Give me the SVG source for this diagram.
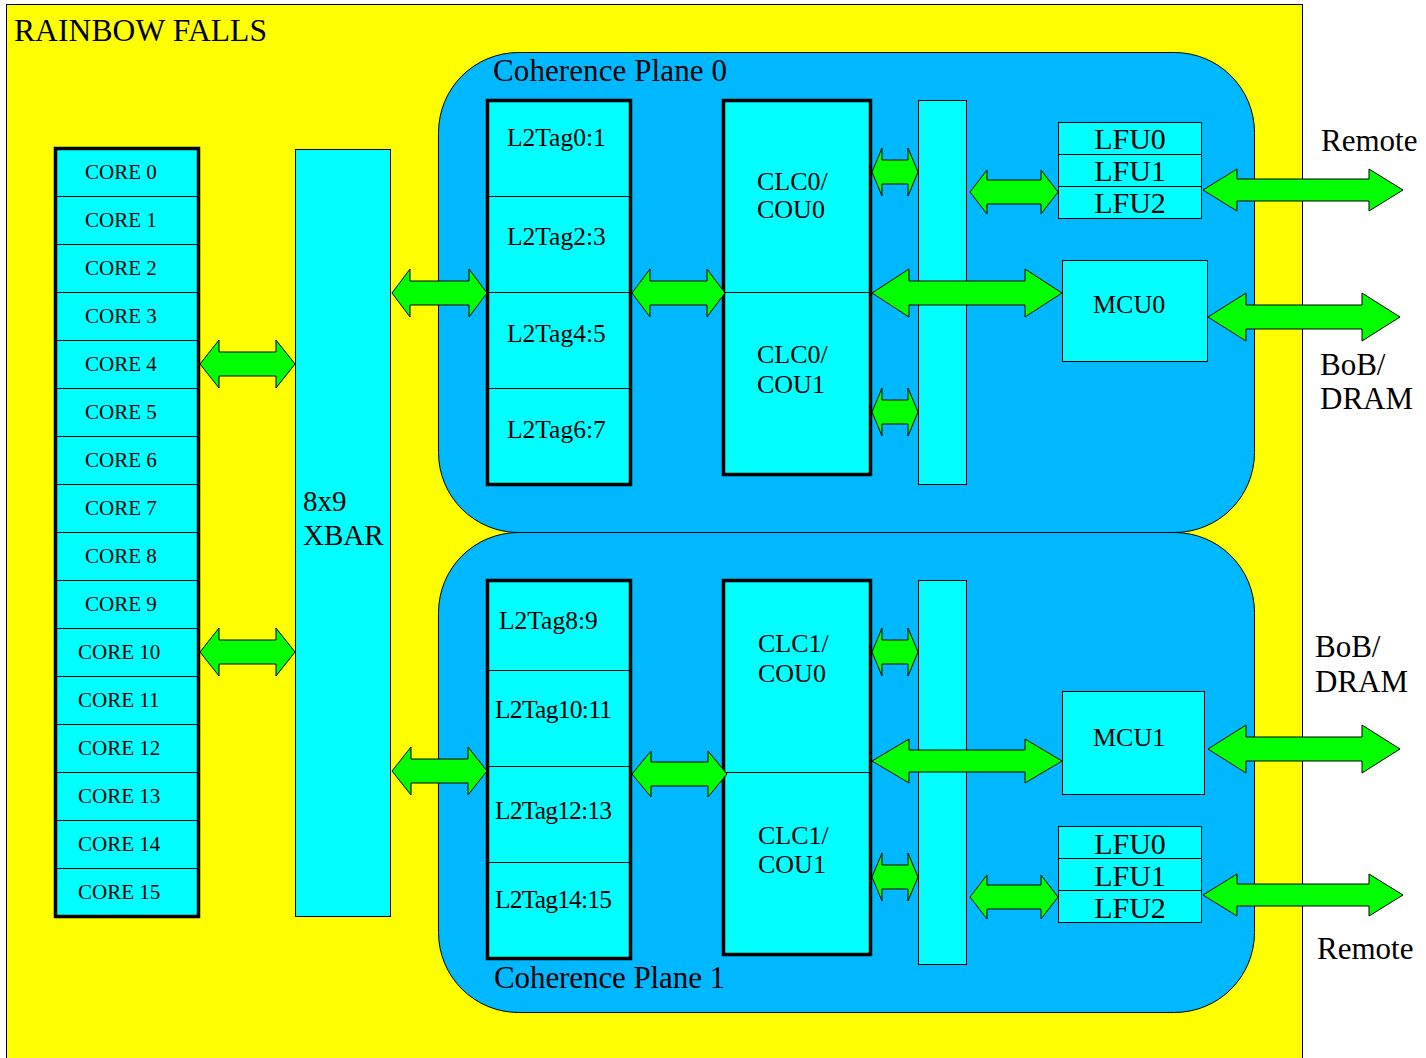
<svg xmlns="http://www.w3.org/2000/svg" width="1426" height="1058" viewBox="0 0 1426 1058">
<style>
text{font-family:"Liberation Serif","Times New Roman",serif;fill:#000}
.cell{fill:#00FFFF;stroke:#000;stroke-width:1}
.thick{fill:none;stroke:#000;stroke-width:3.5}
.plane{fill:#00B8FF;stroke:#000;stroke-width:1}
.arrow{fill:#00FF00;stroke:#000;stroke-width:1;stroke-linejoin:miter}
.core{font-size:21px}
.tag{font-size:25.5px}
.clc{font-size:26px}
.lfu{font-size:30px;text-anchor:middle}
.big{font-size:31px}
</style>
<rect x="6.5" y="4.5" width="1296" height="1060" fill="#FFFF00" stroke="#000" stroke-width="1"/>
<text x="14" y="41" class="big" style="font-size:31.5px" textLength="253">RAINBOW FALLS</text>

<g id="plane0">
<rect class="plane" x="438.5" y="52.5" width="816" height="480" rx="80" ry="80"/>
<text x="493" y="81" class="big" textLength="234">Coherence Plane 0</text>
</g>
<g id="plane1">
<rect class="plane" x="438.5" y="532.5" width="816" height="480" rx="80" ry="80"/>
<text x="494" y="988" class="big" textLength="231">Coherence Plane 1</text>
</g>

<g id="cores">
<g id="core0"><rect class="cell" x="55.5" y="148.5" width="143" height="48"/><text class="core" x="85" y="179">CORE 0</text></g>
<g id="core1"><rect class="cell" x="55.5" y="196.5" width="143" height="48"/><text class="core" x="85" y="227">CORE 1</text></g>
<g id="core2"><rect class="cell" x="55.5" y="244.5" width="143" height="48"/><text class="core" x="85" y="275">CORE 2</text></g>
<g id="core3"><rect class="cell" x="55.5" y="292.5" width="143" height="48"/><text class="core" x="85" y="323">CORE 3</text></g>
<g id="core4"><rect class="cell" x="55.5" y="340.5" width="143" height="48"/><text class="core" x="85" y="371">CORE 4</text></g>
<g id="core5"><rect class="cell" x="55.5" y="388.5" width="143" height="48"/><text class="core" x="85" y="419">CORE 5</text></g>
<g id="core6"><rect class="cell" x="55.5" y="436.5" width="143" height="48"/><text class="core" x="85" y="467">CORE 6</text></g>
<g id="core7"><rect class="cell" x="55.5" y="484.5" width="143" height="48"/><text class="core" x="85" y="515">CORE 7</text></g>
<g id="core8"><rect class="cell" x="55.5" y="532.5" width="143" height="48"/><text class="core" x="85" y="563">CORE 8</text></g>
<g id="core9"><rect class="cell" x="55.5" y="580.5" width="143" height="48"/><text class="core" x="85" y="611">CORE 9</text></g>
<g id="core10"><rect class="cell" x="55.5" y="628.5" width="143" height="48"/><text class="core" x="78" y="659">CORE 10</text></g>
<g id="core11"><rect class="cell" x="55.5" y="676.5" width="143" height="48"/><text class="core" x="78" y="707">CORE 11</text></g>
<g id="core12"><rect class="cell" x="55.5" y="724.5" width="143" height="48"/><text class="core" x="78" y="755">CORE 12</text></g>
<g id="core13"><rect class="cell" x="55.5" y="772.5" width="143" height="48"/><text class="core" x="78" y="803">CORE 13</text></g>
<g id="core14"><rect class="cell" x="55.5" y="820.5" width="143" height="48"/><text class="core" x="78" y="851">CORE 14</text></g>
<g id="core15"><rect class="cell" x="55.5" y="868.5" width="143" height="48"/><text class="core" x="78" y="899">CORE 15</text></g>
<rect class="thick" x="55.5" y="148.5" width="143" height="768"/>
</g>

<g id="xbar">
<rect class="cell" x="295.5" y="149.5" width="95" height="767"/>
<text x="303" y="511" style="font-size:29px">8x9</text>
<text x="303" y="545" style="font-size:29px">XBAR</text>
</g>

<g id="l2tag0">
<rect class="cell" x="487.5" y="100.5" width="143" height="96"/><text class="tag" x="507" y="146">L2Tag0:1</text>
<rect class="cell" x="487.5" y="196.5" width="143" height="96"/><text class="tag" x="507" y="245">L2Tag2:3</text>
<rect class="cell" x="487.5" y="292.5" width="143" height="96"/><text class="tag" x="507" y="342">L2Tag4:5</text>
<rect class="cell" x="487.5" y="388.5" width="143" height="96"/><text class="tag" x="507" y="438">L2Tag6:7</text>
<rect class="thick" x="487.5" y="100.5" width="143" height="384"/>
</g>

<g id="clc0">
<rect class="cell" x="723.5" y="100.5" width="147" height="192"/>
<rect class="cell" x="723.5" y="292.5" width="147" height="182"/>
<text class="clc" x="757" y="190">CLC0/</text><text class="clc" x="757" y="218">COU0</text>
<text class="clc" x="757" y="363">CLC0/</text><text class="clc" x="757" y="393">COU1</text>
<rect class="thick" x="723.5" y="100.5" width="147" height="374"/>
</g>

<g id="bar0"><rect class="cell" x="918.5" y="100.5" width="48" height="384"/></g>

<g id="lfu_p0">
<rect class="cell" x="1058.5" y="122.5" width="143" height="32"/><text class="lfu" x="1130" y="149">LFU0</text>
<rect class="cell" x="1058.5" y="154.5" width="143" height="32"/><text class="lfu" x="1130" y="181">LFU1</text>
<rect class="cell" x="1058.5" y="186.5" width="143" height="32"/><text class="lfu" x="1130" y="213">LFU2</text>
</g>

<g id="mcu0"><rect class="cell" x="1062.5" y="260.5" width="145" height="101"/><text class="clc" x="1093" y="313">MCU0</text></g>

<g id="l2tag1">
<rect class="cell" x="487.5" y="580.5" width="143" height="90"/><text class="tag" x="499" y="629">L2Tag8:9</text>
<rect class="cell" x="487.5" y="670.5" width="143" height="96"/><text class="tag" x="495" y="718" textLength="117">L2Tag10:11</text>
<rect class="cell" x="487.5" y="766.5" width="143" height="96"/><text class="tag" x="495" y="819" textLength="117">L2Tag12:13</text>
<rect class="cell" x="487.5" y="862.5" width="143" height="96"/><text class="tag" x="495" y="908" textLength="117">L2Tag14:15</text>
<rect class="thick" x="487.5" y="580.5" width="143" height="378"/>
</g>

<g id="clc1">
<rect class="cell" x="723.5" y="580.5" width="147" height="192"/>
<rect class="cell" x="723.5" y="772.5" width="147" height="182"/>
<text class="clc" x="758" y="652">CLC1/</text><text class="clc" x="758" y="682">COU0</text>
<text class="clc" x="758" y="844">CLC1/</text><text class="clc" x="758" y="873">COU1</text>
<rect class="thick" x="723.5" y="580.5" width="147" height="374"/>
</g>

<g id="bar1"><rect class="cell" x="918.5" y="580.5" width="48" height="384"/></g>

<g id="mcu1"><rect class="cell" x="1062.5" y="691.5" width="142" height="103"/><text class="clc" x="1093" y="746">MCU1</text></g>

<g id="lfu_p1">
<rect class="cell" x="1058.5" y="826.5" width="143" height="32"/><text class="lfu" x="1130" y="854">LFU0</text>
<rect class="cell" x="1058.5" y="858.5" width="143" height="32"/><text class="lfu" x="1130" y="886">LFU1</text>
<rect class="cell" x="1058.5" y="890.5" width="143" height="32"/><text class="lfu" x="1130" y="918">LFU2</text>
</g>

<g id="labels">
<text class="big" x="1321" y="151">Remote</text>
<text class="big" x="1320" y="375">BoB/</text>
<text class="big" x="1320" y="409">DRAM</text>
<text class="big" x="1315" y="657">BoB/</text>
<text class="big" x="1315" y="692">DRAM</text>
<text class="big" x="1317" y="959">Remote</text>
</g>

<g id="connectors">
<path class="arrow" d="M200,364 L219,340 L219,352 L276,352 L276,340 L295,364 L276,388 L276,376 L219,376 L219,388 Z"/>
<path class="arrow" d="M200,652 L219,628 L219,640 L276,640 L276,628 L295,652 L276,676 L276,664 L219,664 L219,676 Z"/>
<path class="arrow" d="M392,293 L410,269 L410,281 L469,281 L469,269 L487,293 L469,317 L469,305 L410,305 L410,317 Z"/>
<path class="arrow" d="M632,293 L650,269 L650,281 L707,281 L707,269 L725,293 L707,317 L707,305 L650,305 L650,317 Z"/>
<path class="arrow" d="M872,172 L882,148 L882,160 L908,160 L908,148 L918,172 L908,196 L908,184 L882,184 L882,196 Z"/>
<path class="arrow" d="M872,412 L882,388 L882,400 L908,400 L908,388 L918,412 L908,436 L908,424 L882,424 L882,436 Z"/>
<path class="arrow" d="M872,293 L909,269 L909,281 L1025,281 L1025,269 L1062,293 L1025,317 L1025,305 L909,305 L909,317 Z"/>
<path class="arrow" d="M970,192 L987,170 L987,180 L1041,180 L1041,170 L1058,192 L1041,214 L1041,204 L987,204 L987,214 Z"/>
<path class="arrow" d="M1203,190 L1237,169 L1237,179 L1369,179 L1369,169 L1403,190 L1369,211 L1369,201 L1237,201 L1237,211 Z"/>
<path class="arrow" d="M1208,317 L1246,293 L1246,305 L1362,305 L1362,293 L1400,317 L1362,341 L1362,329 L1246,329 L1246,341 Z"/>
<path class="arrow" d="M392,771 L411,747 L411,759 L468,759 L468,747 L487,771 L468,795 L468,783 L411,783 L411,795 Z"/>
<path class="arrow" d="M632,774 L651,751 L651,762 L708,762 L708,751 L727,774 L708,797 L708,786 L651,786 L651,797 Z"/>
<path class="arrow" d="M872,652 L882,628 L882,640 L908,640 L908,628 L918,652 L908,676 L908,664 L882,664 L882,676 Z"/>
<path class="arrow" d="M872,877 L882,853 L882,865 L908,865 L908,853 L918,877 L908,901 L908,889 L882,889 L882,901 Z"/>
<path class="arrow" d="M872,761 L909,739 L909,750 L1025,750 L1025,739 L1062,761 L1025,783 L1025,772 L909,772 L909,783 Z"/>
<path class="arrow" d="M970,897 L987,875 L987,885 L1041,885 L1041,875 L1058,897 L1041,919 L1041,909 L987,909 L987,919 Z"/>
<path class="arrow" d="M1203,895 L1237,874 L1237,884 L1369,884 L1369,874 L1403,895 L1369,916 L1369,906 L1237,906 L1237,916 Z"/>
<path class="arrow" d="M1208,749 L1246,725 L1246,737 L1362,737 L1362,725 L1400,749 L1362,773 L1362,761 L1246,761 L1246,773 Z"/>
</g>
</svg>
